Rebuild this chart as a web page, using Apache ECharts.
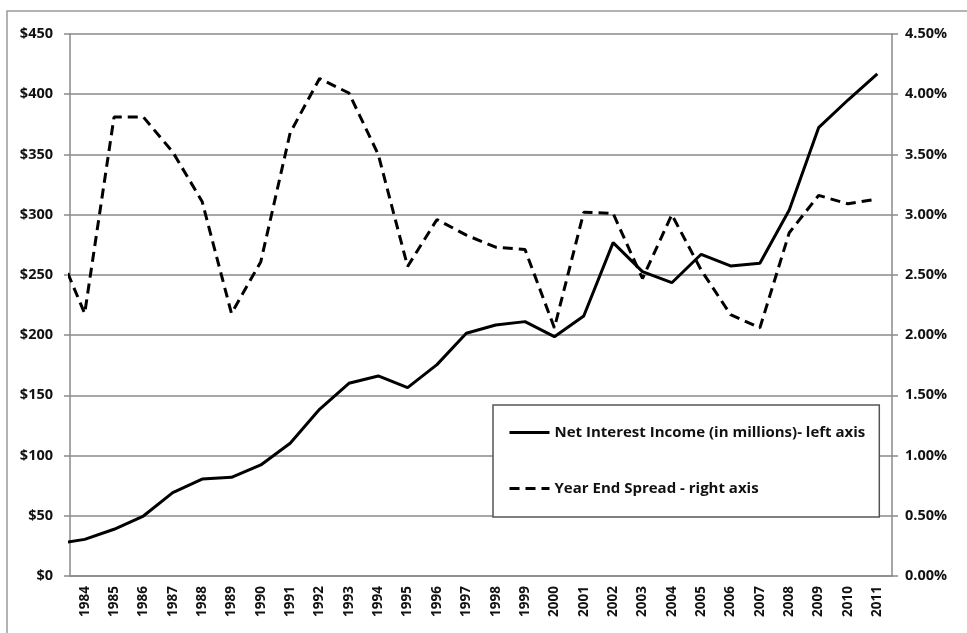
<!DOCTYPE html>
<html>
<head>
<meta charset="utf-8">
<script src="https://cdn.jsdelivr.net/npm/echarts@6/dist/echarts.min.js"></script>
<style>
  html, body { margin: 0; padding: 0; background: #fff; }
  #chart { width: 967px; height: 633px; }
</style>
</head>
<body>
<div id="chart"></div>
<script>
// axis labels shown under the chart
var categories = ['1984', '1985', '1986', '1987', '1988', '1989', '1990', '1991', '1992', '1993',
  '1994', '1995', '1996', '1997', '1998', '1999', '2000', '2001', '2002', '2003',
  '2004', '2005', '2006', '2007', '2008', '2009', '2010', '2011'];

// the lines come in from the left edge, so one earlier year (1983) is kept and clipped by the axis
var years = [1983, 1984, 1985, 1986, 1987, 1988, 1989, 1990, 1991, 1992, 1993,
  1994, 1995, 1996, 1997, 1998, 1999, 2000, 2001, 2002, 2003,
  2004, 2005, 2006, 2007, 2008, 2009, 2010, 2011];

// net interest income, $ millions
var income = [26.6, 30.4, 38.8, 49.8, 69.2, 80.5, 81.9, 92.2, 110.2, 138.4, 160.0,
  166.1, 156.4, 175.5, 201.5, 208.4, 211.2, 198.7, 215.9, 276.8, 252.7,
  243.5, 267.1, 257.4, 259.6, 303.9, 372.2, 395.2, 416.8];

// year end spread, %
var spread = [2.76, 2.18, 3.81, 3.81, 3.52, 3.11, 2.18, 2.61, 3.68, 4.13, 4.01,
  3.50, 2.57, 2.96, 2.83, 2.73, 2.71, 2.06, 3.02, 3.01, 2.47,
  3.00, 2.54, 2.17, 2.06, 2.85, 3.16, 3.09, 3.13];

var leftTicks = { min: 0, max: 450, interval: 50 };
var rightTicks = { min: 0, max: 4.5, interval: 0.5 };

var FONT = 'Open Sans';
var GRAY = '#8a8a8a';

var chart = echarts.init(document.getElementById('chart'));

var pair = function (ys, vals) {
  return ys.map(function (y, i) { return [y, vals[i]]; });
};

chart.setOption({
  backgroundColor: '#fff',
  animation: false,
  graphic: [{
    type: 'rect',
    shape: { x: 7, y: 11, width: 975, height: 640 },
    style: { fill: 'none', stroke: '#9a9a9a', lineWidth: 1.5 },
    silent: true
  }],
  grid: { left: 70, right: 75, top: 34, bottom: 57 },
  legend: {
    orient: 'vertical',
    left: 493,
    top: 405,
    padding: [20, 14, 21, 15],
    itemGap: 41,
    itemWidth: 40,
    itemHeight: 15,
    itemStyle: { opacity: 0 },
    lineStyle: { width: 3 },
    borderColor: '#555',
    borderWidth: 1.5,
    backgroundColor: '#fff',
    textStyle: { fontFamily: FONT, fontWeight: 'bold', fontSize: 15, color: '#111' },
    data: ['Net Interest Income (in millions)- left axis', 'Year End Spread - right axis']
  },
  xAxis: [{
    type: 'category',
    data: categories,
    boundaryGap: true,
    axisLine: { lineStyle: { color: GRAY, width: 1.5 } },
    axisTick: { interval: 0, length: 6, lineStyle: { color: GRAY, width: 1.5 } },
    axisLabel: {
      interval: 0, rotate: 90, margin: 10,
      fontFamily: FONT, fontWeight: 'bold', fontSize: 13.5, color: '#111'
    }
  }, {
    type: 'value',
    show: false,
    min: 1983.5,
    max: 2011.5
  }],
  yAxis: [{
    type: 'value',
    position: 'left',
    min: leftTicks.min, max: leftTicks.max, interval: leftTicks.interval,
    axisLine: { show: true, lineStyle: { color: GRAY, width: 1.5 } },
    axisTick: { show: true, length: 6, lineStyle: { color: GRAY, width: 1.5 } },
    splitLine: { lineStyle: { color: GRAY, width: 1.5 } },
    axisLabel: {
      margin: 17,
      fontFamily: FONT, fontWeight: 'bold', fontSize: 14.5, color: '#111',
      formatter: function (v) { return '$' + v; }
    }
  }, {
    type: 'value',
    position: 'right',
    min: rightTicks.min, max: rightTicks.max, interval: rightTicks.interval,
    axisLine: { show: true, lineStyle: { color: GRAY, width: 1.5 } },
    axisTick: { show: true, length: 6, lineStyle: { color: GRAY, width: 1.5 } },
    splitLine: { show: false },
    axisLabel: {
      margin: 13,
      fontFamily: FONT, fontWeight: 'bold', fontSize: 14.5, color: '#111',
      formatter: function (v) { return v.toFixed(2) + '%'; }
    }
  }],
  series: [{
    name: 'Net Interest Income (in millions)- left axis',
    type: 'line',
    xAxisIndex: 1,
    yAxisIndex: 0,
    data: pair(years, income),
    symbol: 'none',
    clip: true,
    lineStyle: { color: '#000', width: 3 },
    itemStyle: { color: '#000' }
  }, {
    name: 'Year End Spread - right axis',
    type: 'line',
    xAxisIndex: 1,
    yAxisIndex: 1,
    data: pair(years, spread),
    symbol: 'none',
    clip: true,
    lineStyle: { color: '#000', width: 3, type: [10, 6] },
    itemStyle: { color: '#000' }
  }]
});
</script>
</body>
</html>
